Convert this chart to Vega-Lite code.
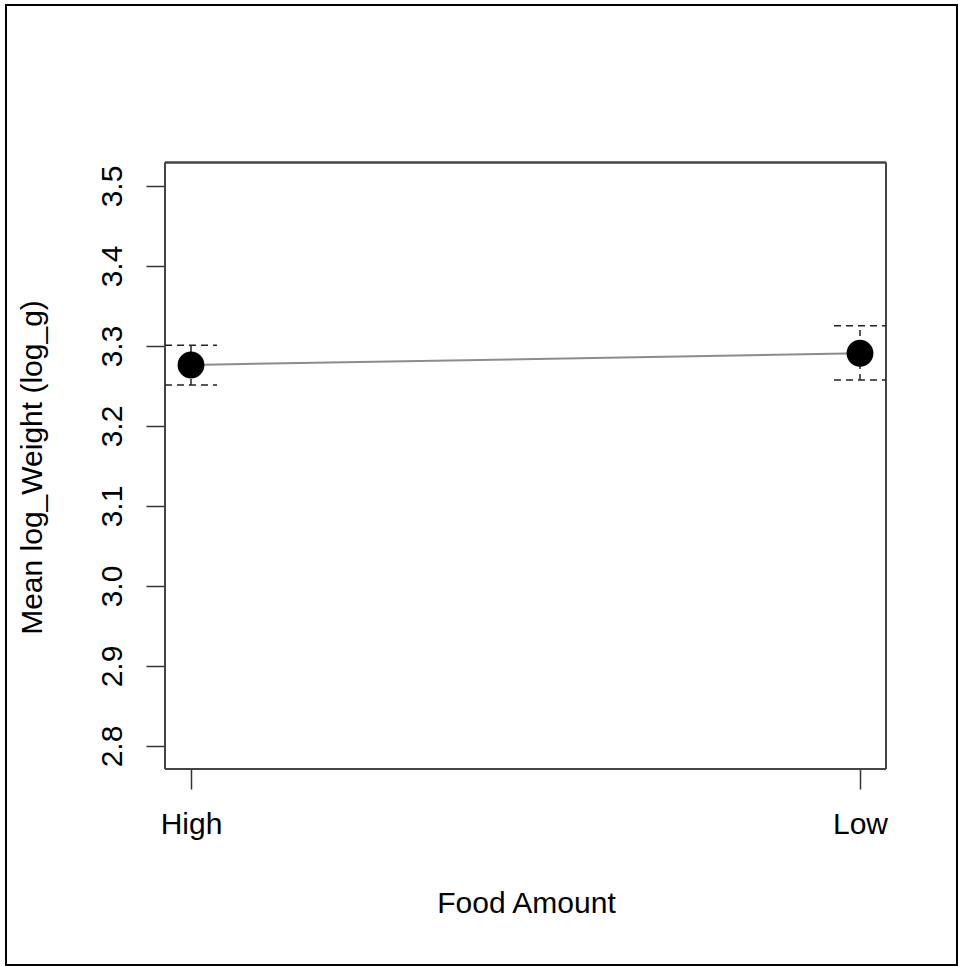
{
  "$schema": "https://vega.github.io/schema/vega-lite/v6.json",
  "width": 951,
  "height": 960,
  "autosize": {"type": "none"},
  "padding": {"left": 6, "top": 5, "right": 1, "bottom": 1},
  "background": "white",
  "config": {
    "view": {"stroke": "black", "strokeWidth": 2},
    "axis": {
      "grid": false,
      "domain": false,
      "labelFont": "Liberation Sans",
      "titleFont": "Liberation Sans",
      "labelFontSize": 30,
      "titleFontSize": 30,
      "labelColor": "black",
      "titleColor": "black",
      "titleFontWeight": "normal",
      "tickColor": "#333",
      "tickWidth": 1.5,
      "labelFlush": false,
      "labelOverlap": false
    }
  },
  "data": {
    "values": [
      {"food": "High", "xi": 0, "mean": 3.2763, "lo": 3.2513, "hi": 3.3010},
      {"food": "Low", "xi": 1, "mean": 3.2909, "lo": 3.2575, "hi": 3.3254}
    ]
  },
  "encoding": {
    "x": {
      "field": "xi",
      "type": "quantitative",
      "scale": {"domain": [-0.27653, 1.14499], "nice": false, "zero": false},
      "axis": {
        "values": [0, 1],
        "labelExpr": "datum.value == 0 ? 'High' : 'Low'",
        "labelAngle": 0,
        "tickSize": 20,
        "labelPadding": 20,
        "offset": -196,
        "title": "Food Amount",
        "titleX": 520,
        "titleY": 134,
        "titleAlign": "center",
        "titleBaseline": "middle"
      }
    },
    "y": {
      "field": "mean",
      "type": "quantitative",
      "scale": {"domain": [2.52625, 3.72625], "nice": false, "zero": false},
      "axis": {
        "values": [2.8, 2.9, 3.0, 3.1, 3.2, 3.3, 3.4, 3.5],
        "format": ".1f",
        "labelAngle": 270,
        "labelAlign": "center",
        "labelBaseline": "bottom",
        "tickSize": 19,
        "labelPadding": 19,
        "offset": -159,
        "title": "Mean log_Weight (log_g)",
        "titleAngle": 270,
        "titleX": -133,
        "titleY": 462,
        "titleAlign": "center",
        "titleBaseline": "middle"
      }
    }
  },
  "layer": [
    {
      "mark": {"type": "rule", "color": "#444", "strokeWidth": 2},
      "encoding": {
        "x": {"datum": -0.03886, "type": "quantitative"},
        "y": {"datum": 2.77125, "type": "quantitative"},
        "y2": {"datum": 3.52938}
      }
    },
    {
      "mark": {"type": "rule", "color": "#444", "strokeWidth": 2},
      "encoding": {
        "x": {"datum": 1.03886, "type": "quantitative"},
        "y": {"datum": 2.77125, "type": "quantitative"},
        "y2": {"datum": 3.52938}
      }
    },
    {
      "mark": {"type": "rule", "color": "#444", "strokeWidth": 2},
      "encoding": {
        "x": {"datum": -0.03886, "type": "quantitative"},
        "x2": {"datum": 1.03886},
        "y": {"datum": 2.77125, "type": "quantitative"}
      }
    },
    {
      "mark": {"type": "rule", "color": "#444", "strokeWidth": 2},
      "encoding": {
        "x": {"datum": -0.03886, "type": "quantitative"},
        "x2": {"datum": 1.03886},
        "y": {"datum": 3.52938, "type": "quantitative"}
      }
    },
    {
      "mark": {"type": "rule", "color": "#222", "strokeWidth": 1.5, "strokeDash": [6, 5]},
      "encoding": {
        "y": {"field": "lo", "type": "quantitative"},
        "y2": {"field": "hi"}
      }
    },
    {
      "mark": {"type": "rule", "color": "#222", "strokeWidth": 1.5, "strokeDash": [7, 5], "xOffset": -26, "x2Offset": 26},
      "encoding": {
        "x2": {"field": "xi"},
        "y": {"field": "lo", "type": "quantitative"}
      }
    },
    {
      "mark": {"type": "rule", "color": "#222", "strokeWidth": 1.5, "strokeDash": [7, 5], "xOffset": -26, "x2Offset": 26},
      "encoding": {
        "x2": {"field": "xi"},
        "y": {"field": "hi", "type": "quantitative"}
      }
    },
    {
      "mark": {"type": "line", "color": "#8c8c8c", "strokeWidth": 2},
      "encoding": {}
    },
    {
      "mark": {"type": "circle", "size": 720, "color": "black", "opacity": 1}
    }
  ]
}
